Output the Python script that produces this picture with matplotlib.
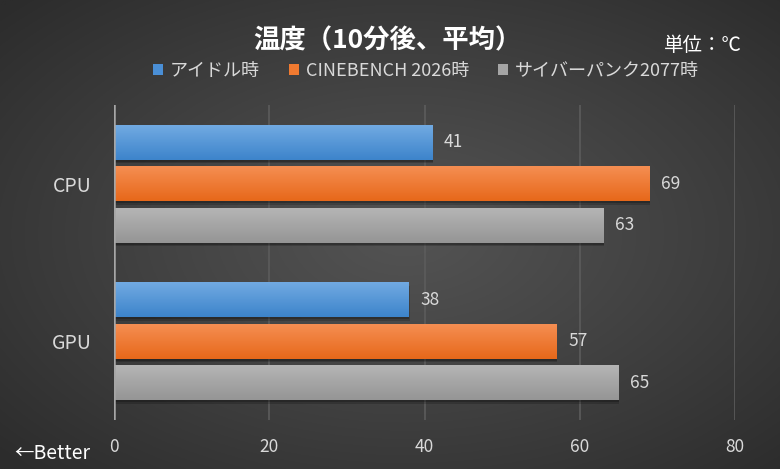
import numpy as np
import matplotlib
matplotlib.use("Agg")
import matplotlib.pyplot as plt
from matplotlib.patches import Patch
from matplotlib.colors import to_rgb

plt.rcParams['font.family'] = ['Noto Sans CJK JP', 'DejaVu Sans']

categories = ["CPU", "GPU"]
series_names = ["アイドル時", "CINEBENCH 2026時", "サイバーパンク2077時"]
idle = [41, 38]
cinebench = [69, 57]
cyberpunk = [63, 65]
xticks = [0, 20, 40, 60, 80]

# top / bottom colours of each bar gradient
grad = [("#71aae2", "#3d84cb"), ("#f58e52", "#e7681a"), ("#b5b5b5", "#959595")]
legend_col = ["#4a8fd6", "#f07a30", "#a5a5a5"]
txt = "#d9d9d9"

W, H = 780, 469
fig = plt.figure(figsize=(W / 100, H / 100), dpi=100)

# radial background
bg = fig.add_axes([0, 0, 1, 1], zorder=0)
yy, xx = np.mgrid[0:1:300j, 0:1:500j]
r = np.sqrt(((xx - 0.52) / 0.5) ** 2 + ((yy - 0.5) / 0.5) ** 2) / np.sqrt(2)
v = (0x53 - (0x53 - 0x2c) * np.clip(r, 0, 1) ** 1.1) / 255
bg.imshow(np.dstack([v, v, v]), extent=(0, 1, 0, 1), aspect="auto")
bg.axis("off")

ax = fig.add_axes([114 / W, 49 / H, 621 / W, 315 / H], zorder=1)
ax.set_facecolor("none")

band = 157.5
h = 35 / band
step = 41.5 / band
ypos = np.arange(len(categories))

for i, vals in enumerate([idle, cinebench, cyberpunk]):
    yc = ypos + (i - 1) * step
    # soft shadow
    for k, a in [(0.018, 0.18), (0.01, 0.22)]:
        ax.barh(yc + k * 1.3, np.array(vals) + k * 6, height=h, color="black",
                alpha=a, zorder=2, linewidth=0)
    bars = ax.barh(yc, vals, height=h, color="none", linewidth=0, zorder=3)
    c0, c1 = np.array(to_rgb(grad[i][0])), np.array(to_rgb(grad[i][1]))
    t = np.linspace(0, 1, 64)[:, None]
    g = (c0 * (1 - t) + c1 * t)[:, None, :]
    for b, val, y in zip(bars, vals, yc):
        im = ax.imshow(g, extent=(0, val, y + h / 2, y - h / 2), aspect="auto",
                       zorder=3, interpolation="bilinear")
        im.set_clip_path(b)
        ax.text(val + 1.5, y, str(val), va="center", ha="left", color=txt,
                fontsize=12.5, zorder=4)

ax.set_xlim(0, 80)
ax.set_ylim(1.5, -0.5)
ax.set_xticks(xticks)
ax.set_xticklabels([str(x) for x in xticks], color=txt, fontsize=12.5)
ax.tick_params(axis="x", length=0, pad=13)
ax.set_yticks(ypos)
ax.set_yticklabels(categories, color=txt, fontsize=14)
ax.tick_params(axis="y", length=0, pad=16)
for x in xticks[1:]:
    ax.axvline(x, color="#5c5c5c", lw=1.2, zorder=1)
ax.axvline(0, color="#a6a6a6", lw=1.8, zorder=5)
for s in ax.spines.values():
    s.set_visible(False)

fig.text(0.497, 0.912, "温度（10分後、平均）", ha="center", va="center",
         color="white", fontsize=19, fontweight="bold")
fig.text(0.951, 0.902, "単位：℃", ha="right", va="center", color="white",
         fontsize=14)
fig.text(0.018, 0.034, "←Better", ha="left", va="center", color="white",
         fontsize=14)

handles = [Patch(facecolor=c, edgecolor="none") for c in legend_col]
fig.legend(handles, series_names, loc="center", bbox_to_anchor=(0.546, 0.849),
           ncol=3, frameon=False, fontsize=13, labelcolor=txt,
           handlelength=0.55, handleheight=0.55, handletextpad=0.4,
           columnspacing=1.6)

fig.savefig("out.png", dpi=100)
